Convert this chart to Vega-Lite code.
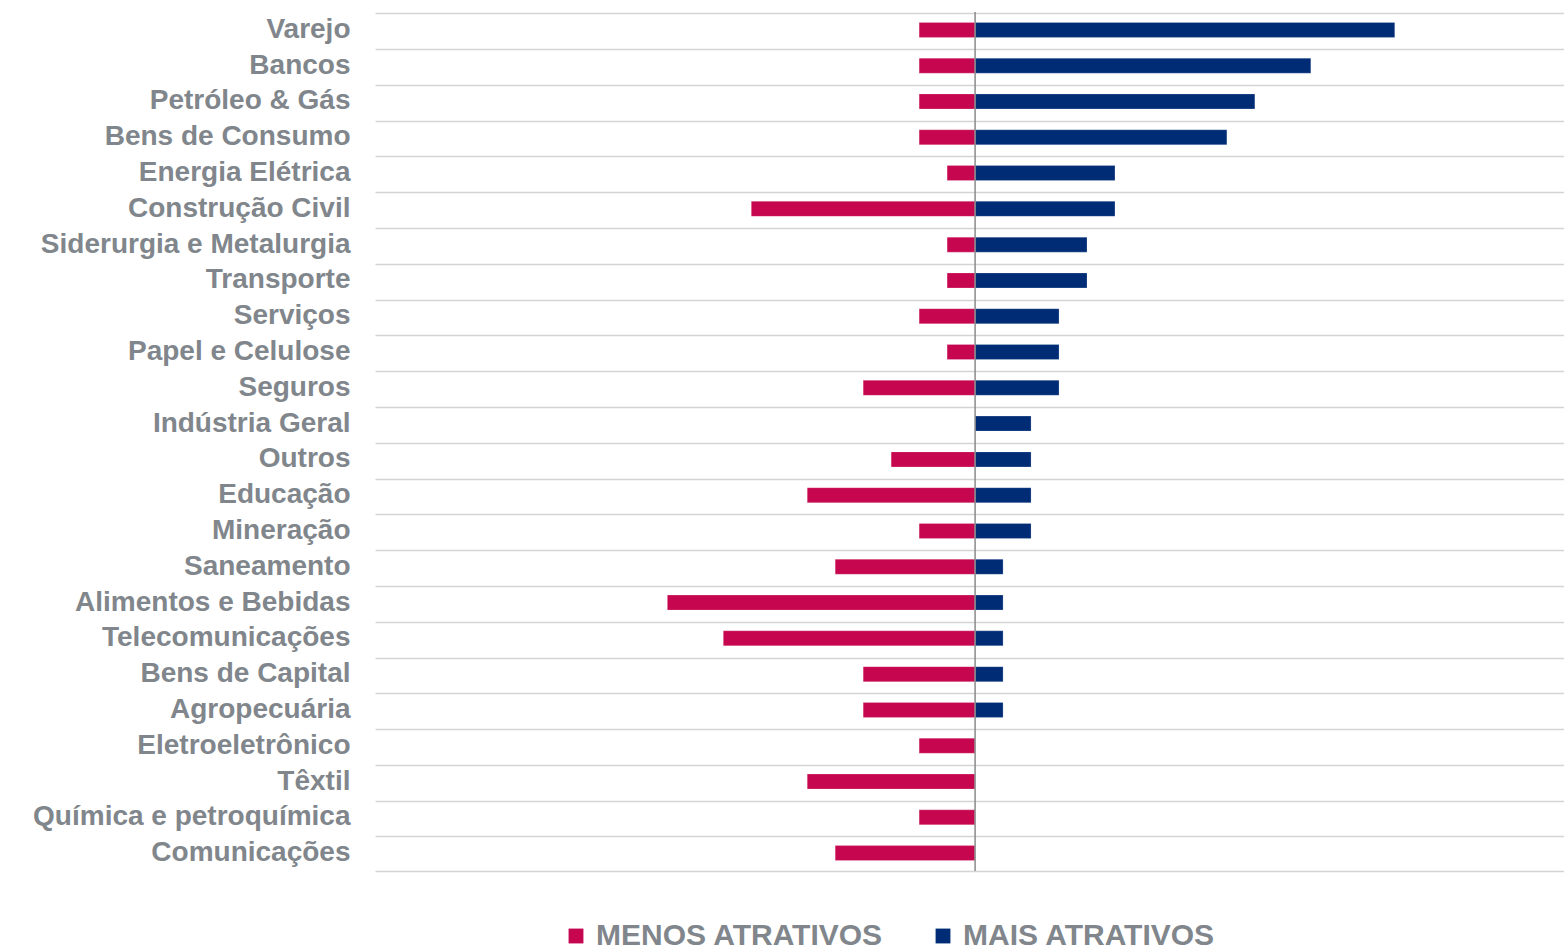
{
  "$schema": "https://vega.github.io/schema/vega-lite/v6.json",
  "autosize": {"type": "none"},
  "padding": {"left": 375, "top": 12, "right": 0, "bottom": 81},
  "width": 1189,
  "height": 859,
  "config": {
    "view": {"stroke": null},
    "font": "Liberation Sans"
  },
  "datasets": {
    "main": [
      {"setor": "Varejo", "tipo": "MENOS ATRATIVOS", "valor": -2},
      {"setor": "Varejo", "tipo": "MAIS ATRATIVOS", "valor": 15},
      {"setor": "Bancos", "tipo": "MENOS ATRATIVOS", "valor": -2},
      {"setor": "Bancos", "tipo": "MAIS ATRATIVOS", "valor": 12},
      {"setor": "Petróleo & Gás", "tipo": "MENOS ATRATIVOS", "valor": -2},
      {"setor": "Petróleo & Gás", "tipo": "MAIS ATRATIVOS", "valor": 10},
      {"setor": "Bens de Consumo", "tipo": "MENOS ATRATIVOS", "valor": -2},
      {"setor": "Bens de Consumo", "tipo": "MAIS ATRATIVOS", "valor": 9},
      {"setor": "Energia Elétrica", "tipo": "MENOS ATRATIVOS", "valor": -1},
      {"setor": "Energia Elétrica", "tipo": "MAIS ATRATIVOS", "valor": 5},
      {"setor": "Construção Civil", "tipo": "MENOS ATRATIVOS", "valor": -8},
      {"setor": "Construção Civil", "tipo": "MAIS ATRATIVOS", "valor": 5},
      {"setor": "Siderurgia e Metalurgia", "tipo": "MENOS ATRATIVOS", "valor": -1},
      {"setor": "Siderurgia e Metalurgia", "tipo": "MAIS ATRATIVOS", "valor": 4},
      {"setor": "Transporte", "tipo": "MENOS ATRATIVOS", "valor": -1},
      {"setor": "Transporte", "tipo": "MAIS ATRATIVOS", "valor": 4},
      {"setor": "Serviços", "tipo": "MENOS ATRATIVOS", "valor": -2},
      {"setor": "Serviços", "tipo": "MAIS ATRATIVOS", "valor": 3},
      {"setor": "Papel e Celulose", "tipo": "MENOS ATRATIVOS", "valor": -1},
      {"setor": "Papel e Celulose", "tipo": "MAIS ATRATIVOS", "valor": 3},
      {"setor": "Seguros", "tipo": "MENOS ATRATIVOS", "valor": -4},
      {"setor": "Seguros", "tipo": "MAIS ATRATIVOS", "valor": 3},
      {"setor": "Indústria Geral", "tipo": "MENOS ATRATIVOS", "valor": 0},
      {"setor": "Indústria Geral", "tipo": "MAIS ATRATIVOS", "valor": 2},
      {"setor": "Outros", "tipo": "MENOS ATRATIVOS", "valor": -3},
      {"setor": "Outros", "tipo": "MAIS ATRATIVOS", "valor": 2},
      {"setor": "Educação", "tipo": "MENOS ATRATIVOS", "valor": -6},
      {"setor": "Educação", "tipo": "MAIS ATRATIVOS", "valor": 2},
      {"setor": "Mineração", "tipo": "MENOS ATRATIVOS", "valor": -2},
      {"setor": "Mineração", "tipo": "MAIS ATRATIVOS", "valor": 2},
      {"setor": "Saneamento", "tipo": "MENOS ATRATIVOS", "valor": -5},
      {"setor": "Saneamento", "tipo": "MAIS ATRATIVOS", "valor": 1},
      {"setor": "Alimentos e Bebidas", "tipo": "MENOS ATRATIVOS", "valor": -11},
      {"setor": "Alimentos e Bebidas", "tipo": "MAIS ATRATIVOS", "valor": 1},
      {"setor": "Telecomunicações", "tipo": "MENOS ATRATIVOS", "valor": -9},
      {"setor": "Telecomunicações", "tipo": "MAIS ATRATIVOS", "valor": 1},
      {"setor": "Bens de Capital", "tipo": "MENOS ATRATIVOS", "valor": -4},
      {"setor": "Bens de Capital", "tipo": "MAIS ATRATIVOS", "valor": 1},
      {"setor": "Agropecuária", "tipo": "MENOS ATRATIVOS", "valor": -4},
      {"setor": "Agropecuária", "tipo": "MAIS ATRATIVOS", "valor": 1},
      {"setor": "Eletroeletrônico", "tipo": "MENOS ATRATIVOS", "valor": -2},
      {"setor": "Eletroeletrônico", "tipo": "MAIS ATRATIVOS", "valor": 0},
      {"setor": "Têxtil", "tipo": "MENOS ATRATIVOS", "valor": -6},
      {"setor": "Têxtil", "tipo": "MAIS ATRATIVOS", "valor": 0},
      {"setor": "Química e petroquímica", "tipo": "MENOS ATRATIVOS", "valor": -2},
      {"setor": "Química e petroquímica", "tipo": "MAIS ATRATIVOS", "valor": 0},
      {"setor": "Comunicações", "tipo": "MENOS ATRATIVOS", "valor": -5},
      {"setor": "Comunicações", "tipo": "MAIS ATRATIVOS", "valor": 0}
    ],
    "zero": [{"z": 0}]
  },
  "layer": [
    {
      "data": {"name": "main"},
      "mark": {"type": "bar", "size": 15, "stroke": "#ffffff", "strokeOpacity": 0.35, "strokeWidth": 0.6},
      "encoding": {
        "y": {
          "field": "setor",
          "type": "nominal",
          "sort": null,
          "axis": {
            "title": null,
            "ticks": false,
            "domain": false,
            "labelFont": "Liberation Sans",
            "labelFontSize": 28,
            "labelFontWeight": "bold",
            "labelColor": "#80868b",
            "labelPadding": 25,
            "labelLimit": 400,
            "grid": true,
            "bandPosition": 0,
            "gridColor": "#d4d4d4",
            "gridWidth": 1.5
          }
        },
        "x": {
          "field": "valor",
          "type": "quantitative",
          "stack": "zero",
          "scale": {"domain": [-21.45, 21.05], "nice": false, "zero": false},
          "axis": {
            "title": null,
            "labels": false,
            "ticks": false,
            "grid": false,
            "domain": true,
            "domainColor": "#d4d4d4",
            "domainWidth": 1.5
          }
        },
        "color": {
          "field": "tipo",
          "type": "nominal",
          "scale": {
            "domain": ["MENOS ATRATIVOS", "MAIS ATRATIVOS"],
            "range": ["#c6064e", "#002c76"]
          },
          "legend": {
            "title": null,
            "orient": "none",
            "direction": "horizontal",
            "legendX": 186,
            "legendY": 909,
            "symbolType": "square",
            "symbolSize": 220,
            "symbolStrokeWidth": 0,
            "labelFont": "Liberation Sans",
            "labelFontSize": 30,
            "labelFontWeight": "bold",
            "labelColor": "#80868b",
            "labelOffset": 5,
            "columnPadding": 44,
            "labelLimit": 500
          }
        }
      }
    },
    {
      "data": {"name": "zero"},
      "mark": {"type": "rule", "color": "#8a8a8a", "strokeWidth": 1.5},
      "encoding": {
        "x": {"field": "z", "type": "quantitative"}
      }
    }
  ]
}
